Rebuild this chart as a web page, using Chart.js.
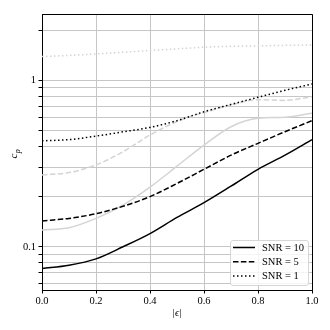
<!DOCTYPE html>
<html>
<head>
<meta charset="utf-8">
<script src="https://cdn.jsdelivr.net/npm/chart.js@4.4.1/dist/chart.umd.min.js"></script>
<style>
    html, body { margin: 0; padding: 0; background: #fff; }
</style>
</head>
<body>
<canvas id="cpChart" width="330" height="330"></canvas>
<script>
// |eps| sample points
const eps = [0, 0.1, 0.2, 0.3, 0.4, 0.5, 0.6, 0.7, 0.8, 0.9, 1.0];

// black curves
const snr10 = [0.074, 0.0775, 0.0846, 0.100, 0.120, 0.150, 0.184, 0.231, 0.292, 0.355, 0.44];
const snr5 = [0.143, 0.148, 0.158, 0.175, 0.200, 0.240, 0.292, 0.355, 0.418, 0.491, 0.572];
const snr1 = [0.433, 0.440, 0.462, 0.490, 0.521, 0.572, 0.647, 0.716, 0.790, 0.870, 0.950];

// light grey curves
const grey10 = [0.126, 0.130, 0.148, 0.178, 0.228, 0.305, 0.408, 0.526, 0.591, 0.599, 0.634];
const grey5 = [0.270, 0.279, 0.310, 0.372, 0.469, 0.565, 0.640, 0.710, 0.765, 0.757, 0.797];
const grey1 = [1.387, 1.410, 1.440, 1.475, 1.510, 1.545, 1.580, 1.600, 1.610, 1.620, 1.630];

const legendLabels = ['SNR = 10', 'SNR = 5', 'SNR = 1'];
const xTicks = [0, 0.2, 0.4, 0.6, 0.8, 1.0];
const yTicks = [0.06, 0.07, 0.08, 0.09, 0.1, 0.2, 0.3, 0.4, 0.5, 0.6, 0.7, 0.8, 0.9, 1, 2];
const yLabelled = [0.1, 1];

const FONT = "'Liberation Serif', 'Times New Roman', serif";
const GRID = '#c6c6c6';
const LIGHT = '#d4d4d4';
const DASH = [5.5, 2.4];
const DOT = [1.5, 2.5];

function pts(ys) {
    return eps.map((x, i) => ({ x: x, y: ys[i] }));
}

function line(label, ys, color, dash) {
    return {
        label: label,
        data: pts(ys),
        borderColor: color,
        borderWidth: 1.5,
        borderDash: dash,
        pointRadius: 0,
        fill: false,
        cubicInterpolationMode: 'monotone'
    };
}

// black first so they sit on top of the grey ones
const datasets = [
    line(legendLabels[0], snr10, '#000', []),
    line(legendLabels[1], snr5, '#000', DASH),
    line(legendLabels[2], snr1, '#000', DOT),
    line('', grey10, LIGHT, []),
    line('', grey5, LIGHT, DASH),
    line('', grey1, LIGHT, DOT)
];

// top and right spines
const framePlugin = {
    id: 'frame',
    afterDatasetsDraw(chart) {
        const { ctx, chartArea: a } = chart;
        ctx.save();
        ctx.strokeStyle = '#000';
        ctx.lineWidth = 1;
        ctx.beginPath();
        ctx.moveTo(a.left, a.top + 0.5);
        ctx.lineTo(a.right + 0.5, a.top + 0.5);
        ctx.lineTo(a.right + 0.5, a.bottom);
        ctx.stroke();
        ctx.restore();
    }
};

// y title with subscript, c_p
const yTitlePlugin = {
    id: 'yTitle',
    afterDraw(chart) {
        const { ctx, chartArea: a } = chart;
        ctx.save();
        ctx.translate(14, (a.top + a.bottom) / 2 + 2);
        ctx.rotate(-Math.PI / 2);
        ctx.fillStyle = '#000';
        ctx.textBaseline = 'alphabetic';
        ctx.font = 'italic 11px ' + FONT;
        const wc = ctx.measureText('c').width;
        ctx.font = 'italic 8px ' + FONT;
        const wp = ctx.measureText('p').width;
        const x0 = -(wc + wp) / 2;
        ctx.font = 'italic 11px ' + FONT;
        ctx.fillText('c', x0, 3);
        ctx.font = 'italic 8px ' + FONT;
        ctx.fillText('p', x0 + wc + 0.3, 5.5);
        ctx.restore();
    }
};

// legend box inside the lower right corner
const legendPlugin = {
    id: 'innerLegend',
    afterDraw(chart) {
        const { ctx, chartArea: a } = chart;
        const items = chart.data.datasets.filter(d => d.label);
        const right = a.right - 4, bottom = a.bottom - 5;
        const w = 78, h = 45;
        const left = right - w, top = bottom - h;
        ctx.save();
        ctx.beginPath();
        ctx.roundRect(left + 0.5, top + 0.5, w, h, 2.5);
        ctx.fillStyle = 'rgba(255,255,255,0.8)';
        ctx.fill();
        ctx.strokeStyle = '#d6d6d6';
        ctx.lineWidth = 1;
        ctx.stroke();
        items.forEach((d, i) => {
            const y = top + 7.5 + i * 14.3;
            ctx.beginPath();
            ctx.setLineDash(d.borderDash);
            ctx.strokeStyle = d.borderColor;
            ctx.lineWidth = d.borderWidth;
            ctx.moveTo(left + 3, y);
            ctx.lineTo(left + 25, y);
            ctx.stroke();
            ctx.setLineDash([]);
            ctx.fillStyle = '#000';
            ctx.font = '10.5px ' + FONT;
            ctx.textBaseline = 'middle';
            ctx.fillText(d.label, left + 32, y + 0.5);
        });
        ctx.restore();
    }
};

const ctx = document.getElementById('cpChart').getContext('2d');
new Chart(ctx, {
    type: 'line',
    data: { datasets: datasets },
    options: {
        responsive: false,
        animation: false,
        devicePixelRatio: 1,
        layout: { padding: { top: 14, right: 18, left: 0, bottom: 0 } },
        plugins: {
            legend: { display: false },
            tooltip: { enabled: false }
        },
        scales: {
            x: {
                type: 'linear',
                min: 0,
                max: 1,
                afterBuildTicks: scale => { scale.ticks = xTicks.map(v => ({ value: v })); },
                afterFit: scale => { scale.height = 40; },
                ticks: {
                    autoSkip: false,
                    maxRotation: 0,
                    padding: 1,
                    color: '#000',
                    font: { family: FONT, size: 10.5 },
                    callback: v => v.toFixed(1)
                },
                grid: { color: GRID, tickColor: '#000', tickLength: 3.5, lineWidth: 1 },
                border: { color: '#000', width: 1 },
                title: {
                    display: true,
                    text: '|ϵ|',
                    color: '#000',
                    font: { family: FONT, size: 10.5, style: 'italic' },
                    padding: { top: 0, bottom: 10.5 }
                }
            },
            y: {
                type: 'logarithmic',
                min: 0.055,
                max: 2.5,
                afterBuildTicks: scale => { scale.ticks = yTicks.map(v => ({ value: v })); },
                afterFit: scale => { scale.width = 42; },
                ticks: {
                    autoSkip: false,
                    padding: 2.5,
                    color: '#000',
                    font: { family: FONT, size: 10.5 },
                    callback: v => yLabelled.includes(v) ? String(v) : ''
                },
                grid: { color: GRID, tickColor: '#000', tickLength: 3.5, lineWidth: 1 },
                border: { color: '#000', width: 1 }
            }
        }
    },
    plugins: [framePlugin, yTitlePlugin, legendPlugin]
});
</script>
</body>
</html>
